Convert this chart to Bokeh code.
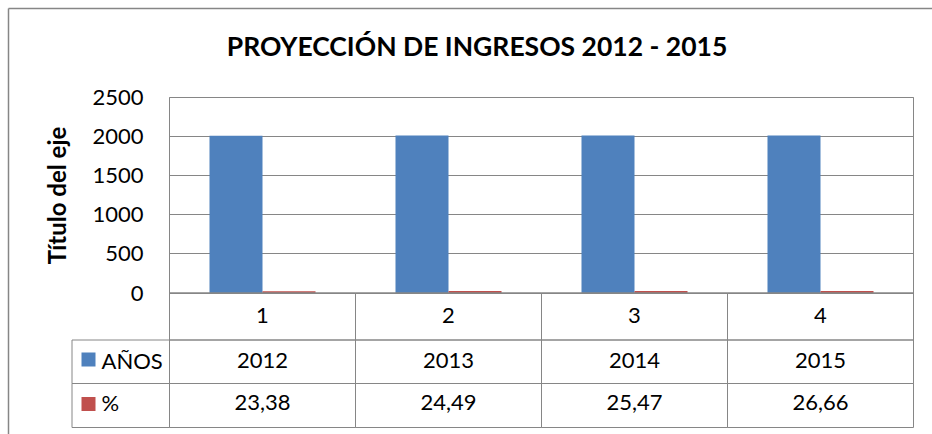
from bokeh.plotting import figure
from bokeh.models import Range1d, FixedTicker, Label, ColumnDataSource
from bokeh.core.properties import value
from bokeh.transform import dodge
from bokeh.embed import file_html
from bokeh.resources import INLINE

# ---------------- data ----------------
title_text = "PROYECCIÓN DE INGRESOS 2012 - 2015"
y_axis_title = "Título del eje"
categories = [1, 2, 3, 4]
category_labels = ["1", "2", "3", "4"]
series_names = ["AÑOS", "%"]
anos = [2012, 2013, 2014, 2015]
anos_labels = ["2012", "2013", "2014", "2015"]
pct = [23.38, 24.49, 25.47, 26.66]
pct_labels = ["23,38", "24,49", "25,47", "26,66"]
y_ticks = [0, 500, 1000, 1500, 2000, 2500]

# ---------------- style / layout (pixels) ----------------
BLUE = "#4F81BD"
RED = "#C0504D"
GRAY = "#868686"
FONT = "Lato"

W, H = 932, 434
PL, PR, PT, PB = 169, 913, 97, 292.5   # plot area edges (px)
YMAX = 2500.0
XS = 4.0 / (PR - PL)                    # data units per px (x)
YS = YMAX / (PB - PT)                   # data units per px (y)
X0 = 0.5 - PL * XS
X1 = 4.5 + (W - PR) * XS
Y1 = YMAX + PT * YS
Y0 = -(H - PB) * YS
BASE_FIX = 0.41                         # baseline correction (fraction of font size)


def dx(px):
    return X0 + px * XS


def dy(py):
    return Y1 - py * YS


p = figure(width=W, height=H, output_backend="svg", toolbar_location=None,
           x_range=Range1d(X0, X1), y_range=Range1d(Y0, Y1),
           min_border=0, min_border_left=0, min_border_right=0,
           min_border_top=0, min_border_bottom=0)
p.background_fill_color = "white"
p.border_fill_color = "white"
p.outline_line_color = None

src = ColumnDataSource(dict(cat=categories, anos=anos, pct=pct,
                            anos_lab=anos_labels, pct_lab=pct_labels))

# grid
p.xgrid.visible = False
p.ygrid.ticker = FixedTicker(ticks=y_ticks)
p.ygrid.grid_line_color = GRAY
p.ygrid.cross_bounds = (0.5, 4.5)

# bars
bw = 0.285
p.vbar(x=dodge("cat", -bw / 2, range=p.x_range), top="anos", width=bw, bottom=0,
       source=src, fill_color=BLUE, line_color=None)
p.vbar(x=dodge("cat", bw / 2, range=p.x_range), top="pct", width=bw, bottom=0,
       source=src, fill_color=RED, line_color=None)

# y axis (fixed at left edge of plot area)
ya = p.yaxis[0]
ya.fixed_location = 0.5
ya.bounds = (0, YMAX)
ya.ticker = FixedTicker(ticks=y_ticks)
ya.axis_line_color = None
ya.major_tick_line_color = None
ya.minor_tick_line_color = None
ya.major_tick_out = 0
ya.major_tick_in = 0
ya.major_label_standoff = 26
ya.major_label_text_font = FONT
ya.major_label_text_font_size = "22px"
ya.major_label_text_color = "black"
ya.axis_label = y_axis_title
ya.axis_label_text_font = FONT
ya.axis_label_text_font_style = "bold"
ya.axis_label_text_font_size = "24px"
ya.axis_label_text_color = "black"
ya.axis_label_standoff = 18

# x axis = first row of the data table
xa = p.xaxis[0]
xa.fixed_location = 0
xa.bounds = (0.5, 4.5)
xa.ticker = FixedTicker(ticks=categories)
xa.major_label_overrides = {c: l for c, l in zip(categories, category_labels)}
xa.axis_line_color = GRAY
xa.major_tick_line_color = None
xa.minor_tick_line_color = None
xa.major_tick_out = 0
xa.major_tick_in = 0
xa.major_label_standoff = 15
xa.major_label_text_font = FONT
xa.major_label_text_font_size = "22px"
xa.major_label_text_color = "black"

# plot-area border
p.quad(left=[0.5], right=[4.5], bottom=[0], top=[YMAX],
       fill_color=None, line_color=GRAY, line_width=1)

# data-table cells
row_edges = [0, dy(339.5), dy(383), dy(427)]
cl, cr, cb, ct = [], [], [], []
for r in range(3):
    for c in categories:
        cl.append(c - 0.5); cr.append(c + 0.5)
        ct.append(row_edges[r]); cb.append(row_edges[r + 1])
    if r > 0:
        cl.append(dx(71.5)); cr.append(0.5)
        ct.append(row_edges[r]); cb.append(row_edges[r + 1])
p.quad(left=cl, right=cr, bottom=cb, top=ct, fill_color=None, line_color=GRAY, line_width=1)

# table values
TFS = 22
baselines = [dy(369.5 - BASE_FIX * TFS), dy(411.5 - BASE_FIX * TFS)]
for fld, yb in zip(["anos_lab", "pct_lab"], baselines):
    p.text(x="cat", y=yb, text=fld, source=src, text_align="center",
           text_baseline="alphabetic", text_font=value(FONT),
           text_font_size=f"{TFS}px", text_color="black")

# legend keys inside the table
row_mid = [dy(359), dy(403.5)]
for name, col, ym, yb in zip(series_names, [BLUE, RED], row_mid, baselines):
    p.quad(left=[dx(81)], right=[dx(95)], top=[ym + 7 * YS], bottom=[ym - 7 * YS],
           fill_color=col, line_color=None)
    p.add_layout(Label(x=dx(101), y=yb, text=name, text_align="left",
                       text_baseline="alphabetic", text_font=FONT,
                       text_font_size=f"{TFS}px", text_color="black"))

# title
TTS = 26.5
p.add_layout(Label(x=dx(476.5), y=dy(56.5 - BASE_FIX * TTS), text=title_text,
                   text_align="center", text_baseline="alphabetic", text_font=FONT,
                   text_font_style="bold", text_font_size=f"{TTS}px", text_color="black"))

# outer chart border (left and top edges)
p.segment(x0=[dx(8), dx(8)], y0=[dy(8), dy(8)], x1=[dx(8), X1], y1=[Y0, dy(8)],
          line_color=GRAY, line_width=1.5)

open("out.html", "w").write(file_html(p, INLINE))
